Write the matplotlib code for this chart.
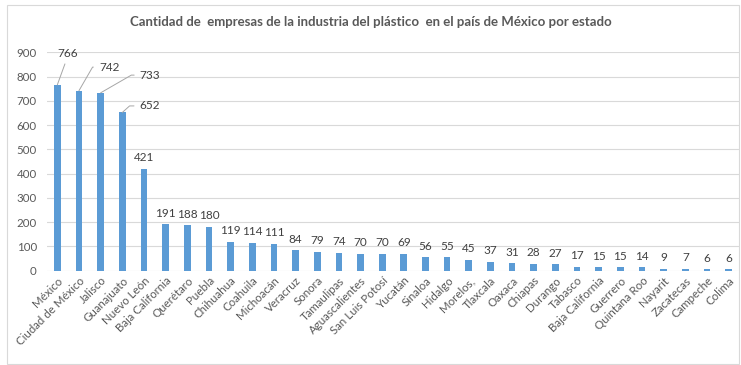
import numpy as np
import matplotlib.pyplot as plt
from matplotlib.patches import Rectangle
from matplotlib.transforms import ScaledTranslation

TITLE = 'Cantidad de  empresas de la industria del plástico  en el país de México por estado'

states = ['México', 'Ciudad de México', 'Jalisco', 'Guanajuato', 'Nuevo León',
          'Baja California', 'Querétaro', 'Puebla', 'Chihuahua', 'Coahuila',
          'Michoacán', 'Veracruz', 'Sonora', 'Tamaulipas', 'Aguascalientes',
          'San Luis Potosí', 'Yucatán', 'Sinaloa', 'Hidalgo', 'Morelos,',
          'Tlaxcala', 'Oaxaca', 'Chiapas', 'Durango', 'Tabasco',
          'Baja California', 'Guerrero', 'Quintana Roo', 'Nayarit', 'Zacatecas',
          'Campeche', 'Colima']
companies = [766, 742, 733, 652, 421, 191, 188, 180, 119, 114, 111, 84, 79, 74,
             70, 70, 69, 56, 55, 45, 37, 31, 28, 27, 17, 15, 15, 14, 9, 7, 6, 6]
y_ticks = [0, 100, 200, 300, 400, 500, 600, 700, 800, 900]

BAR_COLOR = '#5B9BD5'
GRID_COLOR = '#D9D9D9'
TEXT_COLOR = '#595959'
LABEL_COLOR = '#404040'

# labels moved off the first four bars, with leader lines (offset in data units, angle of leader)
moved = {0: (0.49, 131, 70), 1: (1.39, 97, 60), 2: (2.28, 73, 30), 3: (1.27, 27, 42)}

plt.rcParams['font.family'] = ['Lato', 'DejaVu Sans']

fig = plt.figure(figsize=(7.41, 3.65), dpi=100)
ax = fig.add_axes([46.5 / 741, 1 - 270.7 / 365, (739.5 - 46.5) / 741, (270.7 - 52.3) / 365])

x = np.arange(len(states))
ax.bar(x, companies, width=0.31, color=BAR_COLOR, zorder=3)

for i, v in enumerate(companies):
    if i in moved:
        dx, dy, ang = moved[i]
        ax.annotate(str(v), xy=(i, v), xytext=(i + dx, v + dy), textcoords='data',
                    ha='center', va='center', fontsize=8.5, color=LABEL_COLOR,
                    arrowprops=dict(arrowstyle='-', color='#A6A6A6', lw=0.7,
                                    relpos=(0, 0.5), shrinkA=2, shrinkB=0,
                                    connectionstyle='angle,angleA=0,angleB=%d,rad=0' % ang))
    else:
        ax.annotate(str(v), xy=(i, v), xytext=(0, 4), textcoords='offset points',
                    ha='center', va='bottom', fontsize=8.5, color=LABEL_COLOR)

ax.set_xlim(-0.5, len(states) - 0.5)
ax.set_ylim(0, 900)
ax.set_yticks(y_ticks)
ax.set_xticks(x)
ax.set_xticklabels(states, rotation=45, ha='right', rotation_mode='anchor',
                   fontsize=8.3, color=TEXT_COLOR)
shift = ScaledTranslation(5 / 72, 0, fig.dpi_scale_trans)
for lbl in ax.get_xticklabels():
    lbl.set_transform(lbl.get_transform() + shift)
ax.tick_params(axis='x', length=0, pad=3)
ax.tick_params(axis='y', length=0, pad=7, labelsize=8.3, labelcolor=TEXT_COLOR)
ax.grid(axis='y', color=GRID_COLOR, lw=0.8, zorder=0)
for s in ax.spines.values():
    s.set_visible(False)

fig.text(0.5, 1 - 22 / 365, TITLE, ha='center', va='center', fontsize=9.5,
         fontweight='bold', color=TEXT_COLOR)
fig.patches.append(Rectangle((7 / 741, 1 / 365), 732 / 741, 359 / 365,
                             transform=fig.transFigure, fill=False,
                             edgecolor=GRID_COLOR, lw=0.8))

fig.savefig('out.png', dpi=100)
